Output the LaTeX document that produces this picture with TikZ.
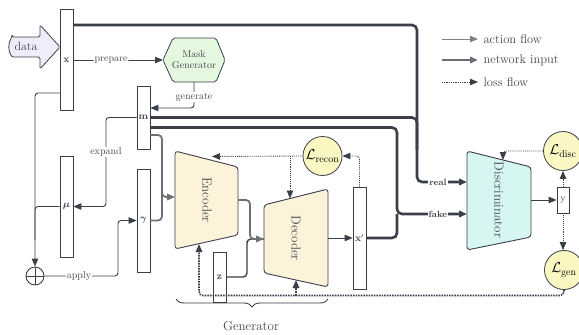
\documentclass[tikz,border=0pt]{standalone}
\usepackage{amsmath}
\usetikzlibrary{arrows.meta,decorations.pathreplacing,calc}
\definecolor{ink}{HTML}{3A3F48}
\definecolor{gline}{HTML}{6C6F76}
\definecolor{lgray}{HTML}{7E8187}
\definecolor{txt}{HTML}{43464D}
\definecolor{dataF}{HTML}{EEEEFB}
\definecolor{maskF}{HTML}{E4F8DF}
\definecolor{codeF}{HTML}{FDF2DA}
\definecolor{discF}{HTML}{D6F6F1}
\definecolor{lossF}{HTML}{FBF7C3}
\begin{document}
\begin{tikzpicture}[x=1pt,y=-1pt,
  vec/.style={draw=ink, fill=white, line width=0.8pt, minimum width=13pt, inner sep=0pt, text=ink, font=\bfseries},
  actl/.style={draw=ink, line width=0.9pt, rounded corners=3pt},
  netl/.style={draw=ink, line width=2.6pt, rounded corners=5pt},
  midl/.style={draw=gline, line width=1.8pt, rounded corners=4pt},
  zl/.style={draw=ink, line width=1.4pt, rounded corners=4pt},
  lossl/.style={draw=ink, line width=0.9pt, densely dotted, rounded corners=3pt},
  lossb/.style={draw=ink, line width=1.6pt, densely dotted, rounded corners=4pt},
  arr/.style={-{Triangle[length=8pt,width=6.5pt]}},
  lab/.style={fill=white, inner sep=1pt, text=txt, font=\fontsize{10}{12}\selectfont},
  blab/.style={fill=white, inner sep=1pt, text=ink, font=\small\bfseries},
  codebox/.style={draw=ink, fill=codeF, line width=0.9pt, rounded corners=3pt},
  discbox/.style={draw=ink, fill=discF, line width=0.9pt, rounded corners=3pt},
  rot/.style={rotate=-90, text=txt, font=\fontsize{13}{15}\selectfont},
  lossc/.style={circle, draw=ink, fill=lossF, line width=0.8pt, minimum size=39pt, inner sep=0pt, font=\Large},
  legt/.style={anchor=west, text=txt, font=\fontsize{12.5}{14}\selectfont}
]
\useasboundingbox (0,0) rectangle (579,335);

% data arrow
\draw[draw=ink, fill=dataF, line width=0.8pt, rounded corners=1.5pt] (12,37) -- (40,37) -- (40,25) -- (60,47) -- (40,69) -- (40,57) -- (12,57) .. controls (8,51) and (8,43) .. (12,37) -- cycle;
\node[text=txt, font=\large] (data) at (26,46) {data};

% vectors
\node[vec, minimum height=101pt] (x) at (66.5,60) {$\mathbf{x}$};
\node[vec, minimum height=63pt] (m) at (143.5,117.5) {$\mathbf{m}$};
\node[vec, minimum height=101pt] (mu) at (66.5,206.5) {$\boldsymbol{\mu}$};
\node[vec, minimum height=103pt] (gam) at (143.5,220.5) {$\boldsymbol{\gamma}$};
\node[vec, minimum height=50pt] (z) at (219.5,277) {$\mathbf{z}$};
\node[vec, minimum height=102pt] (xp) at (359.5,238) {$\mathbf{x}'$};
\node[vec, minimum height=26pt, font=\normalfont, minimum width=12pt] (y) at (563,200) {y};

% mask generator
\draw[draw=ink, fill=maskF, line width=0.8pt, rounded corners=2pt] (163,60) -- (173,38) -- (216,38) -- (225,60) -- (216,82) -- (173,82) -- cycle;
\node[text=txt, align=center, font=\normalsize] (mask) at (194,60) {Mask\\[-1pt]Generator};
\coordinate (maskW) at (163,60);
\coordinate (maskS) at (194,82);

% encoder
\draw[codebox] (175,151) -- (238,167) -- (238,235) -- (175,249) -- cycle;
\node[rot] (enc) at (207,200) {Encoder};
\coordinate (encW) at (175,197);
\coordinate (encE) at (238,200);
\coordinate (encT) at (212,156.5);
\coordinate (encB) at (199,244);

% decoder
\draw[codebox] (264,205) -- (328,189) -- (328,287) -- (264,273) -- cycle;
\node[rot] (dec) at (296,238) {Decoder};
\coordinate (decW) at (264,239);
\coordinate (decE) at (328,238);
\coordinate (decT) at (290,198.5);
\coordinate (decB) at (296,280);

% discriminator
\draw[discbox] (467,151) -- (531,167) -- (531,237) -- (467,250) -- cycle;
\node[rot] (disc) at (499,200) {Discriminator};
\coordinate (dReal) at (467,182);
\coordinate (dFake) at (467,214);
\coordinate (dE) at (531,200);
\coordinate (dT) at (503,160);

% losses
\node[lossc] (lrec) at (322.5,156) {$\mathcal{L}_{\mathrm{recon}}$};
\node[lossc] (ldisc) at (563,151) {$\mathcal{L}_{\mathrm{disc}}$};
\node[lossc] (lgen) at (564,270) {$\mathcal{L}_{\mathrm{gen}}$};

% plus
\node[circle, draw=ink, line width=0.9pt, minimum size=18pt, inner sep=0pt,
  path picture={\draw[ink, line width=0.9pt] (path picture bounding box.north) -- (path picture bounding box.south) (path picture bounding box.west) -- (path picture bounding box.east);}] (plus) at (35,276) {};

\coordinate (topY) at (0,25);
\coordinate (botY) at (0,295.5);

% network input lines
\draw[netl, arr] (x.east |- topY) -| (417,182) -- (dReal);
\draw[netl] (m.east) -| (417,150);
\draw[netl, arr] ($(m.east)+(0,10)$) -| (397,214) -- (dFake);
\draw[netl] (xp.east) -| (397,214);
\node[blab] at (438,182) {real};
\node[blab] at (438,214) {fake};

% action flows
\draw[actl, arr] (x.east) -- (maskW) node[lab, pos=0.42] {prepare};
\draw[actl, arr] (maskS) |- ($(m.east)+(0,-9.5)$);
\node[lab] at (194,97) {generate};
\draw[actl, arr] (m.west) -| (106,150) |- (mu.east);
\node[lab] at (106,152) {expand};
\draw[actl, arr] ($(x.west)+(0,33)$) -| (plus.north);
\draw[actl] (mu.west) -| (35,240);
\draw[actl, arr] (plus.east) -| (118,240) |- (gam.west);
\node[lab] at (79,276) {apply};

% generator inputs
\draw[midl, arr] ($(m.east)+(0,17.5)$) -| (162,190) |- (encW);
\draw[midl] (gam.east) -| (162,190);
\draw[zl] (z.east) -| (247,245) |- (decW);
\draw[midl, arr] (encE) -| (250,230) |- (decW);
\draw[actl, arr] (decE) -- (xp.west);
\draw[actl, arr] (dE) -- (y.west);

% loss flows
\draw[lossl, arr] (xp.north) |- (lrec.east);
\draw[lossl, arr] (lrec.west) -- (encT);
\draw[lossl, arr] (decT |- lrec.west) -- (decT);
\draw[lossl, arr] (y.north) -- (y.north |- ldisc.south);
\draw[lossl, arr] (y.south) -- (y.south |- lgen.north);
\draw[lossl, arr] (ldisc.west) -| (dT);
\draw[lossb, arr] (lgen.south) |- (botY -| encB) -- (encB);
\draw[lossb, arr] (decB |- botY) -- (decB);

% generator brace
\draw[ink, line width=0.9pt, decorate, decoration={brace, mirror, amplitude=8pt}] (176,299) -- (328,299);
\node[text=txt, font=\fontsize{13}{15}\selectfont] (gen) at (251,326) {Generator};

% legend
\coordinate (la1) at (442,39); \coordinate (lb1) at (478,39);
\coordinate (la2) at (442,60); \coordinate (lb2) at (478,60);
\coordinate (la3) at (442,82); \coordinate (lb3) at (478,82);
\draw[draw=lgray, line width=1pt, arr] (la1) -- (lb1);
\draw[draw=gline, line width=2.2pt, arr] (la2) -- (lb2);
\draw[draw=ink, line width=0.8pt, densely dotted, arr] (la3) -- (lb3);
\node[legt] (l1) at (480,39) {action flow};
\node[legt] (l2) at (480,60) {network input};
\node[legt] (l3) at (480,82) {loss flow};
\end{tikzpicture}
\end{document}
